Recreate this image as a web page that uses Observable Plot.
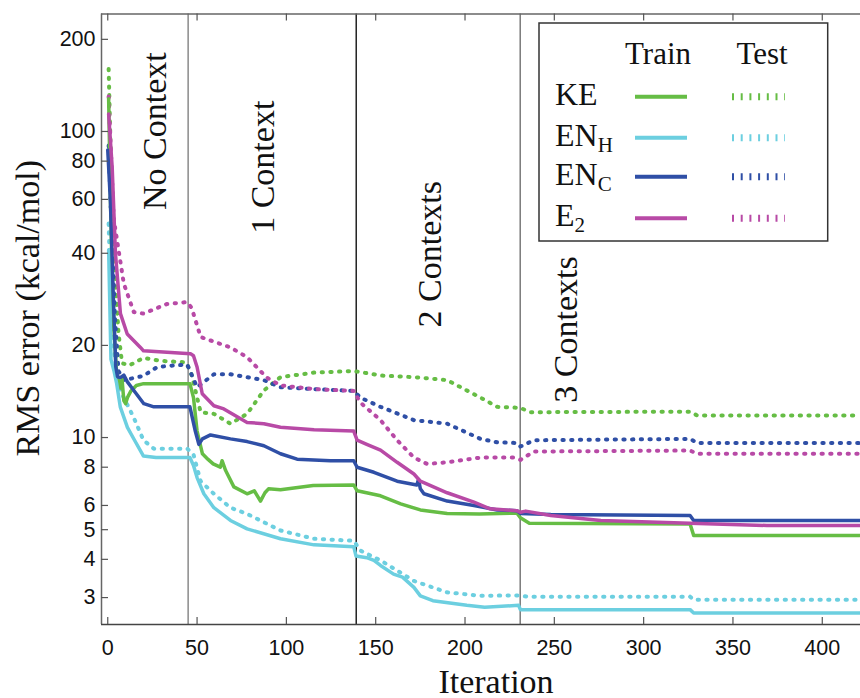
<!DOCTYPE html>
<html><head><meta charset="utf-8">
<script src="https://cdn.jsdelivr.net/npm/d3@7"></script>
<script src="https://cdn.jsdelivr.net/npm/@observablehq/plot@0.6"></script>
<style>body{margin:0;background:#fff} #chart{position:relative;width:860px;height:698px}</style>
</head><body><div id="chart"></div>
<script>
// ---- data ----
const seriesNames = ["KE", "EN_H", "EN_C", "E2"];
const seriesLabelMain = ["KE", "EN", "EN", "E"];
const seriesLabelSub = ["", "H", "C", "2"];
const seriesColors = ["#66bd45", "#6ccfe0", "#2f4fa6", "#b84aa6"];

const keTrain = [[0.5,128],[1.5,60],[3,25],[5,16.1],[7,14.5],[8,15.5],[9,13.2],[10,12.9],[11,13.5],[13,14.2],[16,14.8],[20,15.0],[46,15.0],[48,13.5],[50,10.5],[53,8.85],[56,8.5],[59,8.2],[63,8.0],[64,8.4],[66,7.8],[70.6,6.9],[78,6.55],[82,6.7],[85.5,6.2],[88,6.6],[90,6.8],[96.7,6.75],[115,6.97],[137.7,7.0],[139.6,6.7],[152.7,6.45],[164,6.07],[175,5.8],[190,5.65],[208,5.63],[229,5.67],[231,5.47],[236,5.25],[326,5.22],[328,4.79],[421,4.79]];
const enhTrain = [[0.5,41],[1,30],[1.8,18],[3.5,16.5],[5,15],[7,12.6],[11,10.8],[15,9.8],[20,8.7],[27,8.6],[46,8.6],[48,8.1],[50,7.4],[53.8,6.55],[59.4,5.9],[68.7,5.36],[78,5.03],[96.7,4.67],[115.5,4.46],[137.7,4.4],[139,4.1],[145,4.05],[149,3.97],[152.7,3.82],[160,3.58],[165,3.5],[171.4,3.24],[175,3.04],[182,2.93],[201,2.83],[211,2.79],[230,2.83],[231,2.74],[326,2.74],[328,2.67],[421,2.67]];
const encTrain = [[0,87],[1.5,59],[3,30],[4.5,17],[5.5,15.8],[7,15.7],[9,16.0],[11,15.2],[14.6,14.25],[20.2,12.9],[25.8,12.6],[46,12.6],[49,10.5],[51,9.5],[53,9.9],[57.5,10.2],[68.7,9.9],[78,9.7],[87.4,9.4],[96.7,8.85],[106,8.5],[124.7,8.4],[137.7,8.4],[139.6,8.0],[149,7.7],[162,7.2],[173,7.0],[174,7.3],[175,6.8],[177,6.55],[190,6.2],[205,6.0],[218,5.8],[229,5.77],[231,5.65],[248,5.6],[326,5.56],[328,5.36],[421,5.36]];
const e2Train = [[0.5,114],[2.5,76],[4.3,40],[7.1,25.4],[10.9,21.8],[18.3,19.7],[20,19.2],[46.3,18.8],[48,18.5],[50,17],[52.9,13.9],[59.4,12.7],[65,12.4],[78,11.2],[87.4,11.1],[96.7,10.8],[115.5,10.6],[137.7,10.5],[139.6,9.8],[145,9.5],[152.7,9.1],[162,8.3],[171.4,7.6],[175,7.2],[190,6.6],[205,6.15],[214,5.85],[229,5.77],[231,5.7],[234,5.75],[248,5.56],[276,5.36],[326,5.25],[369,5.16],[421,5.16]];

const keTest = [[0.5,160],[2,70],[4,35],[6,22],[8,17.5],[12,17.2],[20,18.2],[30,17.8],[44,17.6],[47,16],[52,12.1],[59.4,11.95],[68.7,11.1],[78,11.95],[87.4,14.25],[96.7,15.75],[115.5,16.3],[137.7,16.5],[152.7,15.95],[171.4,15.75],[190,15.4],[208.7,13.5],[218,12.6],[231,12.5],[236.7,12.1],[326,12.15],[330,11.8],[421,11.8]];
const enhTest = [[0.5,50],[2,25],[4,18],[7,14.25],[14.6,11.6],[20,9.8],[25.8,9.2],[44.5,9.2],[48,8.8],[52,7.2],[59.4,6.55],[68.7,5.9],[78,5.63],[96.7,4.97],[115.5,4.67],[137.7,4.6],[141.5,4.27],[152.7,3.97],[171.4,3.4],[190,3.12],[208.7,3.04],[231,3.05],[235,3.02],[326,3.02],[328,2.95],[421,2.95]];
const encTest = [[0.5,90],[2,50],[4,25],[6,16.5],[9,15.4],[20,15.9],[27.7,17],[37,17.2],[44.5,17.3],[50,14.6],[59.4,16.1],[68.7,16.1],[87.4,15.4],[96.7,14.6],[115.5,14.4],[137.7,14.2],[141.5,13.5],[152.7,12.6],[171.4,11.4],[190,11.1],[208.7,9.9],[218,9.65],[229,9.6],[231,9.35],[238.6,9.8],[326,9.9],[330,9.6],[421,9.6]];
const e2Test = [[0.5,130],[2,80],[3.3,52],[9,31.8],[14.6,25.7],[20,25.4],[33,27.3],[44.5,27.7],[47,26.5],[52,21.3],[68.7,19.7],[78,18.3],[89,15.7],[96.7,14.8],[115.5,14.4],[137.7,14.2],[141.5,13],[152.7,11.4],[162,9.8],[171.4,8.6],[178.8,8.2],[190,8.3],[208.7,8.6],[227,8.6],[231,8.45],[238.6,9.0],[326,9.07],[330,8.85],[421,8.85]];

const trainSeries = [keTrain, enhTrain, encTrain, e2Train];
const testSeries = [keTest, enhTest, encTest, e2Test];

const xTicks = [0, 50, 100, 150, 200, 250, 300, 350, 400];
const yTicks = [3, 4, 5, 6, 8, 10, 20, 40, 60, 80, 100, 200];
const xDomain = [-3.5, 421.4];
const yDomain = [2.45, 242];

const boundaries = [45, 139.1, 230.9];
const boundaryColors = ["#8a8a8a", "#222", "#7a7a7a"];
const regionLabels = ["No Context", "1 Context", "2 Contexts", "3 Contexts"];
const regionLabelX = [26.5, 87, 180.3, 256.8];
const regionLabelY = [55.4, 46.3, 22.9, 13.0];

// ---- chart ----
const W = 860, H = 698, mL = 101, mR = 0, mT = 13.5, mB = 74;
const innerW = W - mL - mR, innerH = H - mT - mB;
const serif = "Liberation Serif, Times New Roman, serif";
const sans = "Liberation Sans, Arial, sans-serif";
const tickFont = 21.5;

const marks = [];
boundaries.forEach((b, i) => marks.push(Plot.ruleX([b], {stroke: boundaryColors[i], strokeWidth: 1.5})));
testSeries.forEach((s, i) => marks.push(Plot.line(s, {x: d => d[0], y: d => d[1], stroke: seriesColors[i], strokeWidth: 4, strokeDasharray: "1.3,7.4"})));
trainSeries.forEach((s, i) => marks.push(Plot.line(s, {x: d => d[0], y: d => d[1], stroke: seriesColors[i], strokeWidth: 3.5, strokeLinejoin: "round"})));
// frame (left, top, bottom) and inward ticks
marks.push(Plot.ruleX([xDomain[0]], {stroke: "#666", strokeWidth: 1.5}));
marks.push(Plot.ruleY([yDomain[1]], {stroke: "#666", strokeWidth: 1.5}));
marks.push(Plot.ruleY([yDomain[0]], {stroke: "#444", strokeWidth: 1.5}));
marks.push(Plot.ruleX(xTicks, {insetTop: innerH - 7, stroke: "#555", strokeWidth: 1.2}));
marks.push(Plot.ruleX(xTicks, {insetBottom: innerH - 7, stroke: "#555", strokeWidth: 1.2}));
marks.push(Plot.ruleY(yTicks, {insetRight: innerW - 7, stroke: "#555", strokeWidth: 1.2}));
marks.push(Plot.axisX({ticks: xTicks, tickSize: 0, tickPadding: 15, tickFormat: d => String(d), label: null, fontSize: tickFont, fontFamily: sans}));
marks.push(Plot.text(yTicks, {y: d => d, text: d => String(d), frameAnchor: "left", textAnchor: "end", dx: -6, fontSize: tickFont, fontFamily: sans, fill: "#111"}));
marks.push(Plot.text(regionLabels, {x: (d, i) => regionLabelX[i], y: (d, i) => regionLabelY[i], rotate: -90, textAnchor: "start", fontFamily: serif, fontSize: 34, fill: "#111"}));
marks.push(Plot.text(["RMS error (kcal/mol)"], {frameAnchor: "left", textAnchor: "middle", dx: -73, dy: -11, rotate: -90, fontFamily: serif, fontSize: 34, fill: "#111"}));
marks.push(Plot.text(["Iteration"], {frameAnchor: "bottom", textAnchor: "middle", dx: 15, dy: 68, lineAnchor: "bottom", fontFamily: serif, fontSize: 34, fill: "#111"}));

const chart = Plot.plot({
  width: W, height: H,
  marginLeft: mL, marginRight: mR, marginTop: mT, marginBottom: mB,
  x: {domain: xDomain, axis: null},
  y: {type: "log", domain: yDomain, axis: null},
  style: {fontFamily: sans, fontSize: tickFont + "px", color: "#111", background: "white"},
  marks
});

// ---- legend (drawn into the same SVG) ----
const svg = d3.select(chart);
const lg = svg.append("g");
lg.append("rect").attr("x", 539).attr("y", 23).attr("width", 288.7).attr("height", 218)
  .attr("fill", "white").attr("stroke", "#333").attr("stroke-width", 1.5);
const hdr = lg.append("g").attr("font-family", serif).attr("font-size", 31).attr("fill", "#111").attr("text-anchor", "middle");
hdr.append("text").attr("x", 658).attr("y", 64).text("Train");
hdr.append("text").attr("x", 762).attr("y", 64).text("Test");
const rowLineY = [96.7, 137.7, 176.7, 218.3];
seriesNames.forEach((name, i) => {
  const y = rowLineY[i];
  const t = lg.append("text").attr("x", 555).attr("y", y + 8).attr("text-anchor", "start")
    .attr("font-family", serif).attr("font-size", 32).attr("fill", "#111");
  t.append("tspan").text(seriesLabelMain[i]);
  if (seriesLabelSub[i]) t.append("tspan").attr("font-size", 21).attr("dy", 6).text(seriesLabelSub[i]);
  lg.append("line").attr("x1", 635).attr("x2", 687).attr("y1", y).attr("y2", y)
    .attr("stroke", seriesColors[i]).attr("stroke-width", 4);
  lg.append("line").attr("x1", 732).attr("x2", 785).attr("y1", y).attr("y2", y)
    .attr("stroke", seriesColors[i]).attr("stroke-width", 7).attr("stroke-dasharray", "2,6.7");
});

document.getElementById("chart").appendChild(chart);
</script>
</body></html>
